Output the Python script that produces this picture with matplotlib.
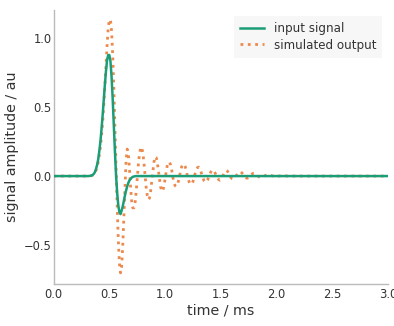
#!/usr/bin/env python3
import numpy as np
import matplotlib
matplotlib.use("Agg")
import matplotlib.pyplot as plt

# sample grid (ms) for the region where something happens
T_STEP = 0.01

# input signal, sampled every 0.01 ms from 0.30 to 0.74 ms
input_vals = [
    0.0, 0.0, 0.001, 0.002, 0.004, 0.008, 0.015, 0.028, 0.05, 0.08,
    0.12, 0.18, 0.25, 0.34, 0.44, 0.55, 0.66, 0.76, 0.84, 0.875,
    0.875, 0.83, 0.72, 0.56, 0.37, 0.18, 0.01, -0.12, -0.21, -0.26,
    -0.275, -0.25, -0.22, -0.18, -0.14, -0.105, -0.075, -0.05, -0.032, -0.02,
    -0.012, -0.006, -0.003, -0.001, 0.0,
]

# simulated output, sampled every 0.01 ms from 0.30 to 1.82 ms
output_vals = [
    0.0, 0.0, 0.0, 0.001, 0.003, 0.006, 0.012, 0.022, 0.04, 0.065,
    0.10, 0.15, 0.21, 0.29, 0.39, 0.51, 0.65, 0.80, 0.95, 1.07,
    1.13, 1.13, 1.05, 0.88, 0.64, 0.36, 0.07, -0.21, -0.45, -0.63,
    -0.70, -0.66, -0.51, -0.30, -0.07, 0.11, 0.195, 0.17, 0.06, -0.07,
    -0.18, -0.23, -0.23, -0.20, -0.12, -0.02, 0.08, 0.16, 0.20, 0.21,
    0.17, 0.10, 0.01, -0.08, -0.14, -0.17, -0.16, -0.11, -0.04, 0.03,
    0.10, 0.14, 0.135, 0.10, 0.04, -0.02, -0.08, -0.11, -0.105, -0.07,
    -0.02, 0.03, 0.08, 0.10, 0.10, 0.08, 0.04, -0.01, -0.05, -0.07,
    -0.075, -0.065, -0.035, 0.0, 0.04, 0.07, 0.085, 0.085, 0.07, 0.04,
    0.0, -0.03, -0.05, -0.06, -0.055, -0.04, -0.01, 0.02, 0.045, 0.06,
    0.065, 0.055, 0.035, 0.01, -0.015, -0.035, -0.045, -0.04, -0.03, -0.01,
    0.01, 0.03, 0.04, 0.045, 0.035, 0.02, 0.0, -0.015, -0.025, -0.03,
    -0.025, -0.01, 0.005, 0.02, 0.035, 0.04, 0.035, 0.02, 0.005, -0.01,
    -0.018, -0.02, -0.018, -0.008, 0.005, 0.015, 0.025, 0.03, 0.03, 0.022,
    0.01, 0.0, -0.01, -0.015, -0.015, -0.01, 0.0, 0.008, 0.015, 0.02,
    0.02, 0.018, 0.01,
]

# slow tail of the output ringing
tail_t = [1.84, 1.87, 1.90, 1.93, 1.96, 1.99, 2.02, 2.05, 2.10, 3.0]
tail_vals = [-0.005, -0.01, 0.005, 0.012, 0.002, -0.005, 0.0, 0.004, 0.0, 0.0]

T_START = 0.30
T_END = 3.0

t_in = np.round(T_START + T_STEP * np.arange(len(input_vals)), 2)
t_in = np.concatenate([[0.0], t_in, [T_END]])
y_in = np.concatenate([[0.0], input_vals, [0.0]])

t_out = np.round(T_START + T_STEP * np.arange(len(output_vals)), 2)
t_out = np.concatenate([[0.0], t_out, tail_t])
y_out = np.concatenate([[0.0], output_vals, tail_vals])

GREEN = "#1b9e77"
ORANGE = "#ec8a4e"
TEXT = "#333333"

fig = plt.figure(figsize=(3.94, 3.26), dpi=100)
ax = fig.add_axes([0.136, 0.129, 0.849, 0.84])

ax.plot(t_in, y_in, color=GREEN, lw=1.8, label="input signal", zorder=3)
ax.plot(t_out, y_out, color=ORANGE, lw=2.0, ls=":", label="simulated output", zorder=2)

ax.set_xlim(0, 3.0)
ax.set_ylim(-0.78, 1.2)
ax.set_xticks([0.0, 0.5, 1.0, 1.5, 2.0, 2.5, 3.0])
ax.set_yticks([-0.5, 0.0, 0.5, 1.0])

ax.set_xlabel("time / ms", fontsize=10.3, color=TEXT, labelpad=2)
ax.set_ylabel("signal amplitude / au", fontsize=10.3, color=TEXT, labelpad=3.5)
ax.tick_params(length=0, labelsize=8.3, labelcolor=TEXT)
ax.tick_params(axis="x", pad=3)
ax.tick_params(axis="y", pad=1.5)

for side in ("top", "right"):
    ax.spines[side].set_visible(False)
for side in ("left", "bottom"):
    ax.spines[side].set_color("#bbbbbb")
    ax.spines[side].set_linewidth(1.0)

leg = ax.legend(loc="upper right", fontsize=8.6, frameon=True, fancybox=False,
                handlelength=2.0, borderpad=0.5, labelspacing=0.3)
leg.get_frame().set_facecolor("#f5f5f5")
leg.get_frame().set_edgecolor("none")
for txt in leg.get_texts():
    txt.set_color(TEXT)

plt.savefig("out.png", dpi=100)
plt.close()
